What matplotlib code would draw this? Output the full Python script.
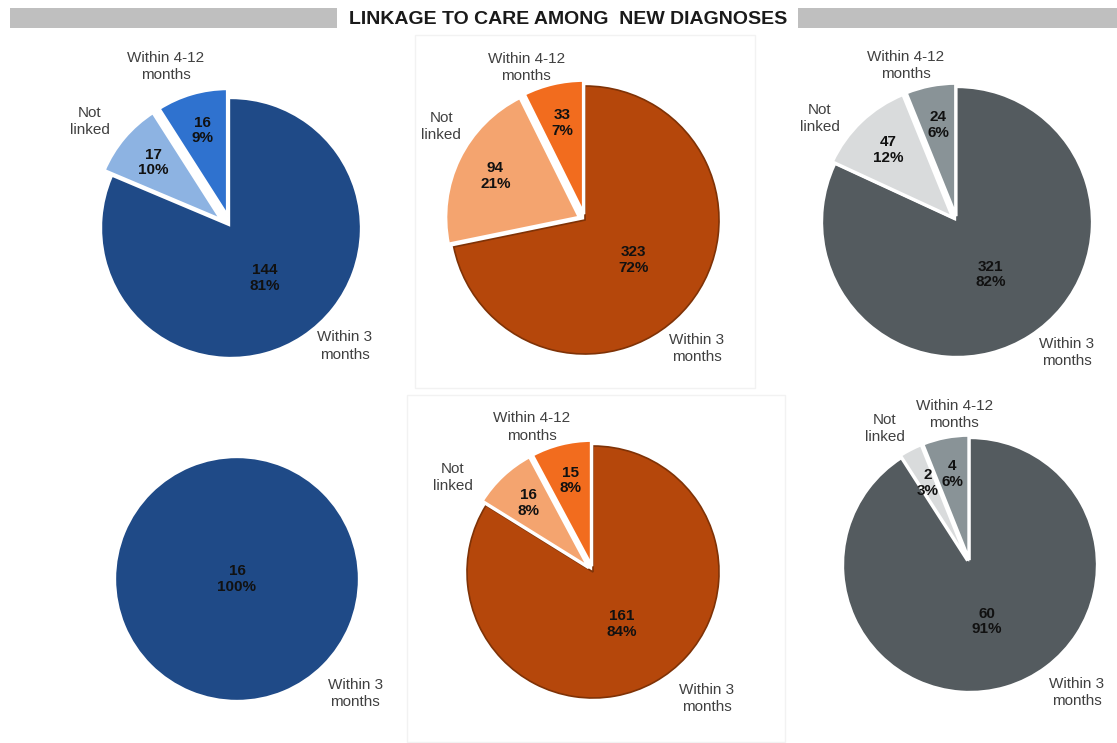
import numpy as np
import matplotlib
matplotlib.use("Agg")
import matplotlib.pyplot as plt
from matplotlib.patches import Rectangle

plt.rcParams["font.family"] = ["Liberation Sans", "DejaVu Sans"]

# data (order = clockwise from 12 o'clock)
categories = ["Within 3\nmonths", "Not\nlinked", "Within 4-12\nmonths"]
within_3 = [144, 323, 321, 16, 161, 60]
not_linked = [17, 94, 47, 0, 16, 2]
within_4_12 = [16, 33, 24, 0, 15, 4]
title = "LINKAGE TO CARE AMONG  NEW DIAGNOSES"

# colour sets: blue, orange, grey (big slice, not linked, 4-12 months)
palettes = {
    "blue": ["#1F4A87", "#8DB3E2", "#2F72CF"],
    "orange": ["#B5470B", "#F4A46F", "#F26C1E"],
    "grey": ["#545B5F", "#D9DBDC", "#899397"],
}
big_edge = {"blue": "#1F4A87", "orange": "#7F3206", "grey": "#545B5F"}
pie_colors = ["blue", "orange", "grey", "blue", "orange", "grey"]

# layout in pixels: centre x, centre y, radius, explode
layout = [
    (231, 228, 128, 0.12),
    (585, 220, 134, 0.06),
    (957, 222, 133, 0.06),
    (237, 579, 120, 0.0),
    (593, 572, 126, 0.06),
    (970, 565, 125, 0.05),
]
# category label placement per pie: (angle deg, distance in radii) for each category
label_pos = [
    [(-46, 1.28), (143, 1.38), (112, 1.36)],
    [(-49, 1.27), (147, 1.28), (111, 1.22)],
    [(-50, 1.28), (143, 1.29), (108, 1.24)],
    [(-44, 1.37), (0, 0), (0, 0)],
    [(-48, 1.35), (146, 1.34), (113, 1.25)],
    [(-50, 1.33), (122, 1.29), (96, 1.21)],
]

W, H = 1117, 743
fig = plt.figure(figsize=(W / 100, H / 100), dpi=100)
fig.patch.set_facecolor("white")

# faint panel frames
for (x0, y0, x1, y1) in [(415, 35, 755, 388), (407, 395, 785, 742)]:
    fig.patches.append(Rectangle((x0 / W, 1 - y1 / H), (x1 - x0) / W, (y1 - y0) / H,
                                 transform=fig.transFigure, fill=False,
                                 edgecolor="#F2F2F2", lw=1))

# title bar
fig.patches.append(Rectangle((10 / W, 1 - 28 / H), (337 - 10) / W, 20 / H,
                             transform=fig.transFigure, color="#BFBFBF", lw=0))
fig.patches.append(Rectangle((798 / W, 1 - 28 / H), (W - 798) / W, 20 / H,
                             transform=fig.transFigure, color="#BFBFBF", lw=0))
fig.text(568 / W, 1 - 19 / H, title, ha="center", va="center",
         fontsize=14, fontweight="bold", color="#1A1A1A")

S = 340  # axes side in px, 1 data unit = 100 px
for i in range(6):
    cx, cy, rpx, ex = layout[i]
    r = rpx / 100
    ax = fig.add_axes([(cx - S / 2) / W, 1 - (cy + S / 2) / H, S / W, S / H])
    ax.patch.set_alpha(0)

    vals = np.array([within_3[i], not_linked[i], within_4_12[i]])
    keep = [k for k in range(3) if vals[k] > 0]
    pal = palettes[pie_colors[i]]
    total = vals.sum()
    explode = [0 if k == 0 else ex for k in keep]
    wedges, _ = ax.pie(vals[keep], radius=r, startangle=90, counterclock=False,
                       colors=[pal[k] for k in keep], explode=explode)
    ax.set_xlim(-S / 200, S / 200)
    ax.set_ylim(-S / 200, S / 200)
    ax.set_aspect("equal")
    ax.axis("off")
    for w, k in zip(wedges, keep):
        if k == 0:
            w.set_edgecolor(big_edge[pie_colors[i]])
            w.set_linewidth(1.2)
        else:
            w.set_edgecolor("white")
            w.set_linewidth(2.5)
        mid = np.deg2rad((w.theta1 + w.theta2) / 2)
        d = 0.47 if k == 0 else 0.70
        if len(keep) == 1:
            d = 0.0
        wx, wy = w.center
        pct = round(vals[k] / total * 100)
        ax.text(wx + r * d * np.cos(mid), wy + r * d * np.sin(mid),
                f"{vals[k]}\n{pct}%", ha="center", va="center",
                fontsize=11, fontweight="bold", color="#111111", linespacing=1.15)
        # category label
        ang, dist = label_pos[i][k]
        ang = np.deg2rad(ang)
        ax.text(r * dist * np.cos(ang), r * dist * np.sin(ang), categories[k],
                ha="center", va="center", fontsize=11, color="#404040",
                linespacing=1.3)

fig.savefig("out.png", dpi=100)
